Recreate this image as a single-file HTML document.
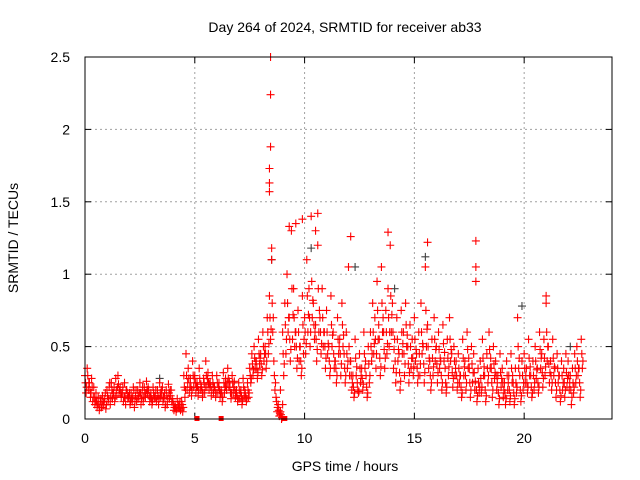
<!DOCTYPE html>
<html><head><meta charset="utf-8"><style>
body{margin:0;background:#fff}
svg{display:block;font-family:"Liberation Sans",sans-serif}
</style></head><body>
<svg id="chart" width="640" height="480" viewBox="0 0 640 480">
<text x="345" y="32" font-size="14" text-anchor="middle">Day 264 of 2024, SRMTID for receiver ab33</text>
<text x="345" y="471" font-size="14" text-anchor="middle">GPS time / hours</text>
<text transform="translate(18,238) rotate(-90)" font-size="14" text-anchor="middle">SRMTID / TECUs</text>
<g id="grid"></g>
<g id="axes"></g>
<g id="marks"></g>
<rect x="85" y="57" width="527" height="362" fill="none" stroke="#000" stroke-width="1"/>
</svg>
<script>
const xTicks=[0,5,10,15,20];
const yTicks=[0,0.5,1,1.5,2,2.5];
const yTickLabels=["0","0.5","1","1.5","2","2.5"];
const seriesA=[.30,.35,.25,.28,.22,.18,.15,.12,.16,.14,
.20,.22,.25,.18,.28,.30,.22,.18,.25,.20,
.15,.18,.22,.16,.20,.25,.18,.22,.26,.20,
.18,.22,.15,.20,.25,.18,.14,.20,.24,.16,
.12,.10,.14,.08,.12,.30,.45,.35,.28,.40,
.30,.25,.35,.22,.28,.40,.32,.25,.30,.22,
.30,.25,.20,.32,.28,.35,.22,.30,.26,.20,
.25,.20,.28,.18,.25,.35,.45,.50,.40,.55,
.45,.60,.50,.70,.85,1.10,.40,.15,.10,.05,
.60,.80,1.00,.70,1.30,.90,.60,.75,.50,.85,
.70,1.10,.90,1.40,.80,.65,1.20,.70,.90,.60,
.75,.50,.85,.60,.40,.70,.55,.80,.45,.60,
1.05,.40,.30,.55,.25,.45,.35,.60,.30,.50,
.60,.80,.70,.95,.55,1.05,.60,.75,.90,1.20,
.80,.55,.70,.45,.75,.60,.80,.50,.65,.55,
.70,.45,.60,.80,.50,1.05,.65,.40,.55,.70,
.50,.60,.40,.65,.35,.55,.70,.45,.50,.40,
.45,.30,.55,.40,.60,.35,.50,.45,.95,.35,
.40,.55,.30,.45,.60,.35,.50,.40,.30,.45,
.35,.25,.40,.30,.45,.25,.35,.70,.30,.40,
.45,.35,.55,.30,.40,.50,.35,.60,.45,.55,
.80,.50,.40,.55,.35,.45,.30,.40,.35,.45,
.40,.30,.35,.45,.50,.35,.55];
const seriesB=[.18,.20,.15,.12,.10,.08,.06,.08,.10,.07,
.12,.10,.14,.12,.16,.18,.15,.12,.10,.14,
.10,.12,.08,.12,.14,.10,.12,.15,.18,.12,
.10,.14,.12,.10,.15,.12,.08,.10,.14,.12,
.06,.05,.08,.06,.05,.15,.20,.18,.16,.22,
.18,.16,.20,.15,.18,.22,.20,.16,.18,.15,
.18,.15,.12,.18,.20,.22,.14,.18,.15,.12,
.14,.10,.16,.12,.15,.25,.30,.35,.28,.38,
.30,.40,.35,.45,.55,.60,.20,.05,.02,.00,
.30,.45,.60,.40,.55,.50,.35,.40,.30,.45,
.45,.60,.50,.70,.55,.40,.60,.45,.50,.35,
.45,.30,.50,.35,.25,.45,.30,.50,.25,.35,
.30,.20,.15,.30,.18,.25,.20,.35,.15,.25,
.40,.45,.35,.55,.30,.60,.35,.45,.50,.60,
.35,.25,.40,.20,.45,.30,.50,.25,.35,.30,
.40,.25,.30,.45,.25,.50,.35,.20,.30,.40,
.25,.35,.20,.40,.18,.30,.40,.22,.30,.20,
.25,.15,.30,.20,.35,.15,.25,.20,.12,.18,
.18,.30,.12,.25,.35,.15,.28,.20,.10,.22,
.15,.10,.20,.12,.25,.10,.18,.35,.12,.20,
.25,.18,.30,.15,.20,.28,.18,.35,.22,.30,
.40,.25,.20,.30,.15,.25,.12,.20,.15,.22,
.20,.10,.18,.25,.30,.15,.35];
const seriesC=[.25,.30,.20,.22,.15,.12,.10,.14,.12,.18,
.16,.25,.20,.22,.20,.24,.18,.22,.15,.18,
.18,.14,.20,.20,.16,.18,.22,.18,.20,.16,
.14,.18,.20,.16,.18,.22,.18,.16,.18,.20,
.10,.08,.10,.12,.10,.22,.30,.28,.22,.30,
.25,.22,.28,.20,.25,.30,.25,.22,.25,.20,
.25,.20,.18,.25,.22,.28,.18,.25,.20,.16,
.20,.16,.22,.15,.20,.30,.38,.42,.35,.45,
.38,.50,.45,.60,.70,.80,.30,.12,.06,.03,
.45,.65,.80,.55,.90,.70,.50,.60,.40,.65,
.60,.85,.70,.95,.65,.55,.90,.60,.70,.50,
.60,.40,.65,.45,.35,.55,.45,.65,.35,.45,
.50,.30,.22,.42,.20,.35,.28,.45,.22,.38,
.50,.60,.55,.75,.42,.80,.48,.60,.70,.85,
.60,.40,.55,.32,.60,.45,.65,.38,.50,.42,
.55,.35,.45,.60,.38,.75,.50,.30,.42,.55,
.38,.48,.30,.52,.25,.42,.55,.32,.40,.30,
.35,.22,.42,.30,.48,.25,.38,.32,.20,.25,
.28,.42,.20,.35,.48,.25,.38,.30,.18,.32,
.25,.18,.30,.20,.35,.18,.25,.50,.20,.30,
.35,.25,.42,.22,.30,.40,.25,.48,.32,.42,
.60,.38,.30,.42,.25,.35,.20,.30,.25,.32,
.30,.20,.25,.35,.40,.25,.45];
const seriesD=[.22,.25,.18,.15,.12,.10,.08,.10,.12,.10,
.14,.15,.18,.15,.22,.20,.18,.15,.20,.16,
.12,.15,.12,.14,.18,.14,.15,.18,.22,.15,
.12,.16,.14,.14,.20,.15,.10,.14,.20,.14,
.08,.07,.10,.07,.08,.20,.25,.22,.20,.28,
.22,.20,.24,.18,.22,.28,.24,.20,.22,.18,
.22,.18,.15,.22,.25,.26,.18,.22,.18,.14,
.18,.13,.20,.14,.18,.28,.34,.40,.32,.42,
.34,.45,.40,.52,.62,.70,.25,.08,.04,.01,
.38,.55,.70,.48,.72,.60,.42,.50,.35,.55,
.52,.72,.60,.82,.60,.48,.75,.52,.60,.42,
.52,.35,.58,.40,.30,.50,.38,.58,.30,.40,
.40,.25,.18,.36,.19,.30,.24,.40,.18,.30,
.45,.52,.45,.65,.36,.70,.42,.52,.60,.72,
.48,.32,.48,.26,.52,.38,.58,.32,.42,.36,
.48,.30,.38,.52,.32,.62,.42,.25,.36,.48,
.32,.42,.25,.46,.22,.36,.48,.28,.35,.25,
.30,.18,.36,.25,.42,.20,.32,.26,.16,.22,
.22,.36,.16,.30,.42,.20,.32,.25,.14,.28,
.20,.14,.25,.16,.30,.14,.22,.42,.16,.25,
.30,.22,.36,.18,.25,.34,.22,.42,.28,.36,
.50,.32,.25,.36,.20,.30,.16,.25,.20,.28,
.25,.15,.22,.30,.35,.20,.40];
const spikeTimes=[8.45,8.45,8.45,8.4,8.4,8.4,8.5,9.3,9.6,9.9,10.6,10.5,12.1,13.8,15.6,17.8,17.8,21.0,8.9,9.0];
const spikeValues=[2.5,2.24,1.88,1.73,1.63,1.57,1.18,1.33,1.35,1.38,1.42,1.3,1.26,1.29,1.22,1.23,1.05,0.85,0.2,0.1];
const grayTimes=[8.5,10.3,15.5,19.9,22.1,3.4,12.3,14.1];
const grayValues=[1.1,1.18,1.12,0.78,0.5,0.28,1.05,0.9];
const zeroTimes=[5.1,6.2,9.1];
const X0=85,X1=612,Y0=419,Y1=57,XMAX=24,YMAX=2.5;
function xs(t){return X0+(X1-X0)*t/XMAX;}
function ys(v){return Y0-(Y0-Y1)*v/YMAX;}
const NS="http://www.w3.org/2000/svg";
const grid=document.getElementById('grid'),axes=document.getElementById('axes'),marks=document.getElementById('marks');
function mk(tag,attrs,parent){const e=document.createElementNS(NS,tag);for(const k in attrs)e.setAttribute(k,attrs[k]);parent.appendChild(e);return e;}
xTicks.forEach((t,i)=>{
  const x=xs(t);
  if(t>0){const g=mk('line',{x1:x,x2:x,y1:Y1,y2:Y0,stroke:'#a0a0a0','stroke-dasharray':'2,3'},grid);
  
  }
  const l=mk('text',{x:x,y:443,'font-size':14,'text-anchor':'middle'},axes);l.textContent=t;
  
  
  mk('line',{x1:x,x2:x,y1:Y0,y2:Y0-6,stroke:'#000'},axes);
  mk('line',{x1:x,x2:x,y1:Y1,y2:Y1+6,stroke:'#000'},axes);
});
yTicks.forEach((v,i)=>{
  const y=ys(v);
  if(v>0&&v<YMAX){const g=mk('line',{x1:X0,x2:X1,y1:y,y2:y,stroke:'#a0a0a0','stroke-dasharray':'2,3'},grid);
  
  }
  const l=mk('text',{x:70,y:y+5,'font-size':14,'text-anchor':'end'},axes);l.textContent=yTickLabels[i];
  
  
  mk('line',{x1:X0,x2:X0+6,y1:y,y2:y,stroke:'#000'},axes);
  mk('line',{x1:X1,x2:X1-6,y1:y,y2:y,stroke:'#000'},axes);
});
function plus(t,v,color){
  const x=xs(t),y=ys(v);
  const p=mk('path',{d:`M${x-4},${y}h8M${x},${y-4}v8`,stroke:color,'stroke-width':1.1,fill:'none'},marks);
  
  
}
grayTimes.forEach((t,i)=>plus(t,grayValues[i],'#404040'));
seriesA.forEach((v,i)=>plus(i*0.1,v,'#ff0000'));
seriesC.forEach((v,i)=>plus(i*0.1+0.025,v,'#ff0000'));
seriesB.forEach((v,i)=>plus(i*0.1+0.05,v,'#ff0000'));
seriesD.forEach((v,i)=>plus(i*0.1+0.075,v,'#ff0000'));
spikeTimes.forEach((t,i)=>plus(t,spikeValues[i],'#ff0000'));
zeroTimes.forEach(t=>{
  const r=mk('rect',{x:xs(t)-2.5,y:Y0-3,width:5,height:5,fill:'#ff0000'},marks);
  
  
});
</script>
</body></html>
